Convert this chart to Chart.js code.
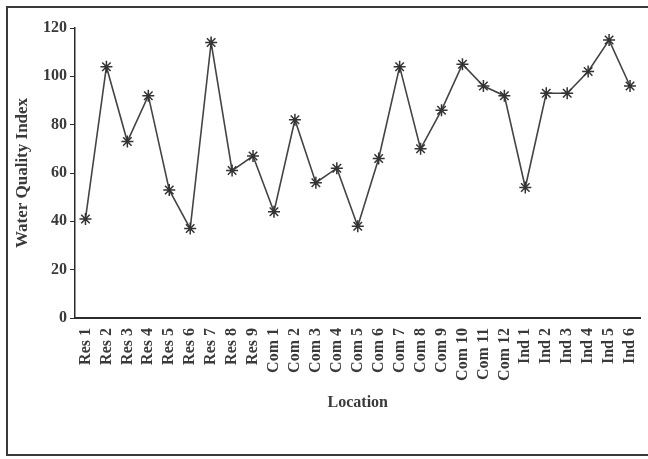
<!DOCTYPE html>
<html>
<head>
<meta charset="utf-8">
<script src="https://cdn.jsdelivr.net/npm/chart.js@4"></script>
<style>
  html, body { margin: 0; padding: 0; background: #ffffff; }
  #wrap { width: 648px; height: 459px; }
</style>
</head>
<body>
<div id="wrap"><canvas id="c" width="648" height="459"></canvas></div>
<script>
const locations = [
  "Res 1","Res 2","Res 3","Res 4","Res 5","Res 6","Res 7","Res 8","Res 9",
  "Com 1","Com 2","Com 3","Com 4","Com 5","Com 6","Com 7","Com 8","Com 9","Com 10","Com 11","Com 12",
  "Ind 1","Ind 2","Ind 3","Ind 4","Ind 5","Ind 6"
];
const wqi = [41, 104, 73, 92, 53, 37, 114, 61, 67,
             44, 82, 56, 62, 38, 66, 104, 70, 86, 105, 96, 92,
             54, 93, 93, 102, 115, 96];
const yMin = 0, yMax = 120, yStep = 20;

const frame = {
  id: 'frame',
  afterDraw(chart) {
    const ctx = chart.ctx;
    ctx.save();
    ctx.strokeStyle = '#3a3a3a';
    ctx.lineWidth = 2;
    ctx.strokeRect(7, 7, 646, 448);
    ctx.restore();
  }
};

const font = { family: "'Liberation Serif', 'Times New Roman', serif", weight: 'bold', size: 16 };
const ink = '#3a3a3a';

new Chart(document.getElementById('c'), {
  type: 'line',
  data: {
    labels: locations,
    datasets: [{
      data: wqi,
      borderColor: '#444444',
      borderWidth: 1.6,
      pointStyle: 'star',
      pointRadius: 6,
      pointBorderColor: '#333333',
      pointBorderWidth: 1.5,
      pointBackgroundColor: '#333333',
      tension: 0,
      fill: false
    }]
  },
  options: {
    responsive: false,
    animation: false,
    layout: { padding: { left: 12, top: 28, right: 6, bottom: 0 } },
    plugins: { legend: { display: false }, tooltip: { enabled: false } },
    scales: {
      x: {
        offset: true,
        grid: { display: false },
        border: { display: true, color: '#2a2a2a', width: 2 },
        ticks: { color: ink, font: font, minRotation: 90, maxRotation: 90, padding: 2, autoSkip: false },
        title: { display: true, text: 'Location', color: ink, font: { ...font, size: 16 }, padding: { top: 0, bottom: 47 } },
        afterFit(scale) { scale.height = 141; scale.paddingRight = 0; scale.paddingLeft = 0; }
      },
      y: {
        min: yMin, max: yMax,
        grid: { display: true, drawOnChartArea: false, drawTicks: true, tickLength: 5, color: '#2a2a2a' },
        border: { display: true, color: '#2a2a2a', width: 1.5 },
        ticks: { stepSize: yStep, color: ink, font: font, padding: 3 },
        title: { display: true, text: 'Water Quality Index', color: ink, font: { ...font, size: 17 }, padding: { top: 0, bottom: 0 } },
        afterFit(scale) { scale.width = 63; }
      }
    }
  },
  plugins: [frame]
});
</script>
</body>
</html>
